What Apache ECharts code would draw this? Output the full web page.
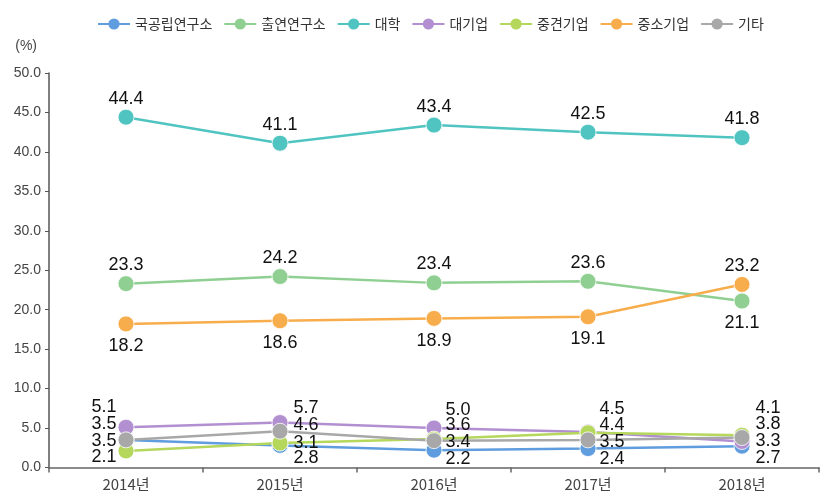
<!DOCTYPE html>
<html>
<head>
<meta charset="utf-8">
<script src="https://cdn.jsdelivr.net/npm/echarts@6/dist/echarts.min.js"></script>
<style>
html,body{margin:0;padding:0;background:#fff;}
#chart{width:825px;height:501px;}
</style>
</head>
<body>
<div id="chart"></div>
<script>
// ---- Data ----
const years = ['2014년', '2015년', '2016년', '2017년', '2018년'];
const seriesNames = ['국공립연구소', '출연연구소', '대학', '대기업', '중견기업', '중소기업', '기타'];
const national   = [3.5, 2.8, 2.2, 2.4, 2.7];
const govFunded  = [23.3, 24.2, 23.4, 23.6, 21.1];
const university = [44.4, 41.1, 43.4, 42.5, 41.8];
const largeCorp  = [5.1, 5.7, 5.0, 4.5, 3.3];
const midCorp    = [2.1, 3.1, 3.6, 4.4, 4.1];
const smallCorp  = [18.2, 18.6, 18.9, 19.1, 23.2];
const others     = [3.5, 4.6, 3.4, 3.5, 3.8];
const yTicks = { min: 0, max: 50, interval: 5 };

// ---- Styles ----
const colors = ['#5f9ddf', '#8fd092', '#4fc4c0', '#b18fd1', '#b5d75c', '#f8ad4c', '#a8a8a8'];
const labelFont = { fontFamily: 'Liberation Sans, Arial, sans-serif', fontSize: 18, color: '#111' };

// label placement per point (style only)
const sideOf = i => (i === 0 ? 'left' : 'right');
const sideDist = [1, 5, 3, 3, 5];
const clusterOffsets = {
  '대기업':       [-20, -14, -18, -23, 0],
  '기타':         [-16, -6, 1, 2, -13.5],
  '국공립연구소': [1, 13, 9, 10, 12],
  '중견기업':     [6, 0, -14, -8, -27]
};
const topBottom = {
  '출연연구소': ['top', 'top', 'top', 'top', 'bottom'],
  '대학':       ['top', 'top', 'top', 'top', 'top'],
  '중소기업':   ['bottom', 'bottom', 'bottom', 'bottom', 'top']
};

const values = [national, govFunded, university, largeCorp, midCorp, smallCorp, others];

function buildData(name, arr) {
  return arr.map((v, i) => {
    let label;
    if (clusterOffsets[name]) {
      label = { position: sideOf(i), distance: sideDist[i], offset: [0, clusterOffsets[name][i]] };
    } else {
      const pos = topBottom[name][i];
      label = { position: pos, distance: pos === 'top' ? 1 : 5 };
    }
    return { value: v, label: label };
  });
}

const series = seriesNames.map((name, k) => ({
  name: name,
  type: 'line',
  data: buildData(name, values[k]),
  symbol: 'circle',
  symbolSize: 16,
  lineStyle: { width: 2.5, color: colors[k] },
  itemStyle: { color: colors[k], borderColor: '#fff', borderWidth: 0.8 },
  label: Object.assign({ show: true, formatter: p => p.value.toFixed(1) }, labelFont),
  emphasis: { disabled: true },
  animation: false
}));

const chart = echarts.init(document.getElementById('chart'), null, { renderer: 'canvas' });
chart.setOption({
  backgroundColor: '#fff',
  color: colors,
  legend: {
    data: seriesNames,
    left: 92,
    top: 12,
    itemWidth: 32,
    itemHeight: 14,
    itemGap: 11,
    itemStyle: { borderWidth: 0 },
    textStyle: { fontFamily: 'Noto Sans CJK KR, sans-serif', fontSize: 14, color: '#333' }
  },
  grid: { left: 49, right: 6, top: 73, bottom: 33.5 },
  xAxis: {
    type: 'category',
    data: years,
    boundaryGap: true,
    axisLine: { lineStyle: { color: '#666', width: 1.5 } },
    axisTick: { show: true, length: 5, lineStyle: { color: '#666', width: 1.5 } },
    axisLabel: { margin: 9, fontFamily: 'Noto Sans CJK KR, sans-serif', fontSize: 15, color: '#444' }
  },
  yAxis: {
    type: 'value',
    min: yTicks.min,
    max: yTicks.max,
    interval: yTicks.interval,
    name: '(%)',
    nameGap: 20,
    nameTextStyle: { align: 'right', padding: [0, 12, 0, 0], fontFamily: 'Liberation Sans, sans-serif', fontSize: 14, color: '#444' },
    axisLine: { show: true, lineStyle: { color: '#555', width: 1.5 } },
    axisTick: { show: true, length: 4, lineStyle: { color: '#555' } },
    splitLine: { show: false },
    axisLabel: {
      margin: 8,
      fontFamily: 'Liberation Sans, sans-serif',
      fontSize: 14,
      color: '#444',
      formatter: v => v.toFixed(1)
    }
  },
  series: series
});
</script>
</body>
</html>
